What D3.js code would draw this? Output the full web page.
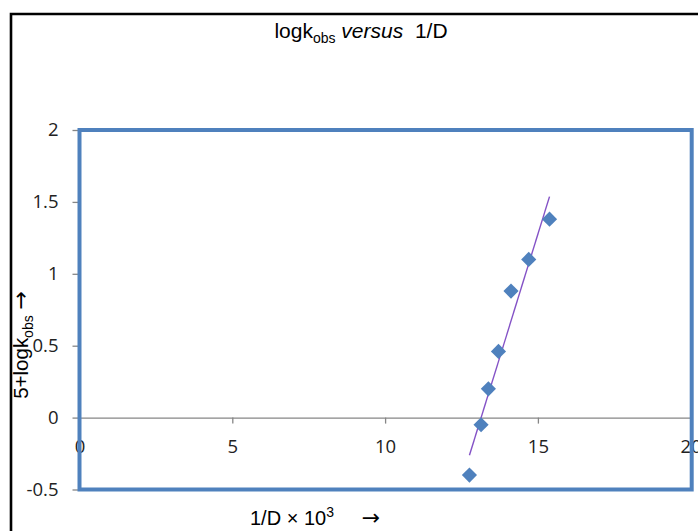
<!DOCTYPE html>
<html>
<head>
<meta charset="utf-8">
<script src="https://cdn.jsdelivr.net/npm/d3@7"></script>
<style>
  html, body { margin: 0; padding: 0; background: #fff; }
  svg { display: block; }
</style>
</head>
<body>
<script>
const WIDTH = 698;
const HEIGHT = 531;

// 1/D x 10^3 against 5 + log k_obs
const xValues = [12.76, 13.14, 13.38, 13.71, 14.12, 14.70, 15.38];
const yValues = [-0.40, -0.05, 0.20, 0.46, 0.88, 1.10, 1.38];

const xTicks = [0, 5, 10, 15, 20];
const yTicks = [-0.5, 0, 0.5, 1, 1.5, 2];

const BLUE = "#4F81BD";
const AXIS_GREY = "#868686";
const TICK_FONT = "'Open Sans', sans-serif";
const TEXT_FONT = "'Liberation Sans', Arial, sans-serif";
const ARROW_FONT = "'DejaVu Sans', sans-serif";

const x = d3.scaleLinear().domain([0, 20]).range([79.5, 690.7]);
const y = d3.scaleLinear().domain([-0.5, 2]).range([489.5, 130]);

const svg = d3.select("body")
  .append("svg")
  .attr("width", WIDTH)
  .attr("height", HEIGHT)
  .attr("viewBox", `0 0 ${WIDTH} ${HEIGHT}`);

svg.append("rect")
  .attr("width", WIDTH)
  .attr("height", HEIGHT)
  .attr("fill", "#fff");

// outer black frame (top and left edges only, rest is cropped)
svg.append("path")
  .attr("d", `M11,${HEIGHT} V14 H${WIDTH}`)
  .attr("fill", "none")
  .attr("stroke", "#000")
  .attr("stroke-width", 2.6);

// Title
const title = svg.append("text")
  .attr("x", 361)
  .attr("y", 38)
  .attr("text-anchor", "middle")
  .attr("font-family", TEXT_FONT)
  .attr("font-size", "21px")
  .attr("fill", "#000");
title.append("tspan").text("logk");
title.append("tspan").attr("font-size", "14px").attr("dy", 5).text("obs");
title.append("tspan").attr("dy", -5).text(" ");
title.append("tspan").attr("font-style", "italic").text("versus");
title.append("tspan").text("\u00a0 1/D");

// X axis sits on y = 0
const xAxis = svg.append("g")
  .attr("transform", `translate(0,${y(0)})`)
  .call(d3.axisBottom(x).tickValues(xTicks).tickSize(6).tickSizeOuter(0).tickPadding(16));
xAxis.selectAll(".domain, .tick line").attr("stroke", AXIS_GREY).attr("stroke-width", 1.3);
xAxis.selectAll("text")
  .attr("fill", "#222")
  .attr("font-family", TICK_FONT)
  .attr("font-size", "18.5px");

// Y axis
const yAxis = svg.append("g")
  .attr("transform", `translate(${x(0)},0)`)
  .call(d3.axisLeft(y).tickValues(yTicks).tickSize(7).tickSizeOuter(0).tickPadding(14).tickFormat((d) => String(d)));
yAxis.selectAll(".domain, .tick line").attr("stroke", AXIS_GREY).attr("stroke-width", 1.3);
yAxis.selectAll("text")
  .attr("fill", "#222")
  .attr("font-family", TICK_FONT)
  .attr("font-size", "18.5px");

// Plot area border
svg.append("rect")
  .attr("x", x(0))
  .attr("y", y(2))
  .attr("width", x(20) - x(0) + 1)
  .attr("height", y(-0.5) - y(2))
  .attr("fill", "none")
  .attr("stroke", BLUE)
  .attr("stroke-width", 4);

// Linear trendline (least squares over the points)
const mx = d3.mean(xValues);
const my = d3.mean(yValues);
const slope = d3.sum(xValues, (v, i) => (v - mx) * (yValues[i] - my)) /
  d3.sum(xValues, (v) => (v - mx) * (v - mx));
const intercept = my - slope * mx;
const [x0, x1] = d3.extent(xValues);
svg.append("line")
  .attr("x1", x(x0))
  .attr("y1", y(intercept + slope * x0))
  .attr("x2", x(x1))
  .attr("y2", y(intercept + slope * x1))
  .attr("stroke", "#8452C6")
  .attr("stroke-width", 1.4);

// Diamond markers
const diamond = d3.symbol().type(d3.symbolSquare).size(115);
svg.append("g")
  .selectAll("path")
  .data(xValues.map((v, i) => [v, yValues[i]]))
  .join("path")
  .attr("d", diamond)
  .attr("transform", (d) => `translate(${x(d[0])},${y(d[1])}) rotate(45)`)
  .attr("fill", BLUE);

// Axis titles
const xTitle = svg.append("text")
  .attr("x", 250)
  .attr("y", 525)
  .attr("font-family", TEXT_FONT)
  .attr("font-size", "20px")
  .attr("fill", "#000");
xTitle.append("tspan").text("1/D \u00d7 10");
xTitle.append("tspan").attr("font-size", "14px").attr("dy", -8).text("3");
xTitle.append("tspan").attr("dy", 8).text("\u00a0\u00a0\u00a0\u00a0 ");
xTitle.append("tspan").attr("font-family", ARROW_FONT).attr("font-size", "22px").text("\u2192");

const yTitle = svg.append("text")
  .attr("transform", "translate(28,345) rotate(-90)")
  .attr("text-anchor", "middle")
  .attr("font-family", TEXT_FONT)
  .attr("font-size", "20.5px")
  .attr("fill", "#000");
yTitle.append("tspan").text("5+logk");
yTitle.append("tspan").attr("font-size", "14px").attr("dy", 5).text("obs");
yTitle.append("tspan").attr("dy", -5).text(" ");
yTitle.append("tspan").attr("font-family", ARROW_FONT).attr("font-size", "22px").text("\u2192");
</script>
</body>
</html>
